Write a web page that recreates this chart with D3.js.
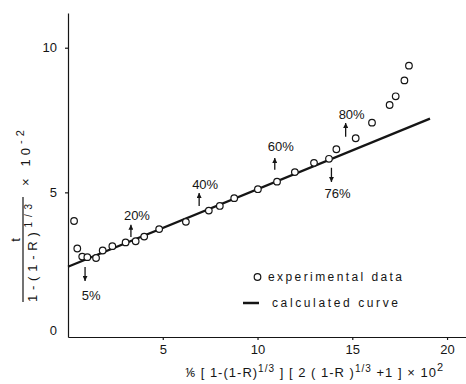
<!DOCTYPE html>
<html>
<head>
<meta charset="utf-8">
<script src="https://cdn.jsdelivr.net/npm/d3@7"></script>
<style>
html, body { margin: 0; padding: 0; background: #fff; }
svg { display: block; font-family: "Liberation Sans", Arial, sans-serif; }
</style>
</head>
<body>
<svg id="chart" width="466" height="384"></svg>
<script>
const g_ink = "#151515";

const exp_x = [0.32, 0.49, 0.75, 1.02, 1.48, 1.83, 2.34, 3.04, 3.57, 4.02, 4.81, 6.22, 7.43, 8.01,
               8.77, 10.02, 11.03, 11.97, 12.98, 13.77, 14.16, 15.18, 16.04, 16.97, 17.29, 17.75, 17.99];
const exp_y = [4.01, 3.06, 2.78, 2.76, 2.73, 2.99, 3.14, 3.27, 3.31, 3.47, 3.73, 3.98, 4.37, 4.53,
               4.80, 5.11, 5.37, 5.70, 6.02, 6.16, 6.49, 6.87, 7.41, 8.02, 8.32, 8.87, 9.38];
// calculated curve = straight line
const calc_x = [0, 19.1];
const calc_y = [2.43, 7.55];
const x_ticks = [5, 10, 15, 20];
const y_ticks = [0, 5, 10];
// conversion marks: label, arrow x, arrow tail y, arrow tip y, label baseline y
const mark_lbl = ["5%", "20%", "40%", "60%", "76%", "80%"];
const mark_x = [0.90, 3.32, 6.92, 10.91, 13.90, 14.65];
const mark_from = [2.42, 3.46, 4.53, 5.78, 5.85, 6.92];
const mark_to = [1.94, 3.88, 4.98, 6.19, 5.36, 7.40];
const mark_txt = [1.28, 4.05, 5.12, 6.42, 4.81, 7.53];

const svg = d3.select("#chart");
const x = d3.scaleLinear().domain([0, 21]).range([68, 466]);
const y = d3.scaleLinear().domain([0, 11.2]).range([337, 13]);

// arrow head
svg.append("defs").append("marker")
    .attr("id", "ah").attr("viewBox", "0 0 10 10")
    .attr("refX", 10).attr("refY", 5)
    .attr("markerUnits", "userSpaceOnUse")
    .attr("markerWidth", 5).attr("markerHeight", 5)
    .attr("orient", "auto")
    .append("path").attr("d", "M0,0L10,5L0,10z").attr("fill", g_ink);

// axes
const xa = svg.append("g").attr("transform", "translate(0," + y(0) + ")")
    .call(d3.axisBottom(x).tickValues(x_ticks).tickSize(3).tickSizeOuter(0).tickPadding(5));
const ya = svg.append("g").attr("transform", "translate(" + x(0) + ",0)")
    .call(d3.axisLeft(y).tickValues(y_ticks).tickSize(3).tickSizeOuter(0).tickPadding(8));
[xa, ya].forEach(a => {
    a.attr("font-family", null).attr("font-size", 13);
    a.selectAll("path, line").attr("stroke", g_ink).attr("stroke-width", 1.2);
    a.selectAll("text").attr("fill", g_ink);
});
ya.selectAll(".tick").filter(d => d === 0).select("line").remove();
ya.selectAll(".tick").filter(d => d === 0).select("text").attr("dy", "-0.2em");

// calculated curve
const line = d3.line().x(d => x(d[0])).y(d => y(d[1]));
svg.append("path").datum(d3.zip(calc_x, calc_y))
    .attr("d", line).attr("fill", "none")
    .attr("stroke", g_ink).attr("stroke-width", 2.3);

// experimental points
svg.selectAll(".pt").data(d3.zip(exp_x, exp_y)).join("circle").classed("pt", true)
    .attr("cx", d => x(d[0])).attr("cy", d => y(d[1])).attr("r", 3.3)
    .attr("fill", "#fff").attr("stroke", g_ink).attr("stroke-width", 1.2);

// conversion arrows
const marks = mark_lbl.map((l, i) => ({ l: l, x: mark_x[i], a: mark_from[i], b: mark_to[i], t: mark_txt[i] }));
svg.selectAll(".arr").data(marks).join("line").classed("arr", true)
    .attr("x1", d => x(d.x)).attr("x2", d => x(d.x))
    .attr("y1", d => y(d.a)).attr("y2", d => y(d.b))
    .attr("stroke", g_ink).attr("stroke-width", 1.3)
    .attr("marker-end", "url(#ah)");
svg.selectAll(".mlbl").data(marks).join("text").classed("mlbl", true)
    .attr("x", d => x(d.x) + 6).attr("y", d => y(d.t))
    .attr("text-anchor", "middle").attr("font-size", 13).attr("fill", g_ink)
    .text(d => d.l);

// legend
const lg = svg.append("g").attr("fill", g_ink).attr("font-size", 12);
lg.append("circle").attr("cx", 257.5).attr("cy", 277).attr("r", 3.3)
    .attr("fill", "#fff").attr("stroke", g_ink).attr("stroke-width", 1.2);
lg.append("text").attr("x", 268).attr("y", 281)
    .attr("textLength", 134).attr("lengthAdjust", "spacing").text("experimental data");
lg.append("line").attr("x1", 243).attr("x2", 259).attr("y1", 303).attr("y2", 303)
    .attr("stroke", g_ink).attr("stroke-width", 2.5);
lg.append("text").attr("x", 272).attr("y", 307)
    .attr("textLength", 126).attr("lengthAdjust", "spacing").text("calculated curve");

// x axis title
const xt = svg.append("text").attr("x", 185).attr("y", 377)
    .attr("font-size", 13).attr("fill", g_ink)
    .attr("textLength", 258).attr("lengthAdjust", "spacing");
xt.append("tspan").text("⅙ [ 1-(1-R)");
xt.append("tspan").attr("dy", -5).attr("font-size", 10).text("1/3");
xt.append("tspan").attr("dy", 5).text(" ] [ 2 ( 1-R )");
xt.append("tspan").attr("dy", -5).attr("font-size", 10).text("1/3");
xt.append("tspan").attr("dy", 5).text(" +1 ] × 10");
xt.append("tspan").attr("dy", -6).attr("font-size", 11).text("2");

// y axis title (rotated fraction)
const yt = svg.append("g").attr("transform", "rotate(-90)").attr("fill", g_ink);
const ym = yt.append("text").attr("x", -186).attr("y", 30).attr("font-size", 13)
    .attr("textLength", 56).attr("lengthAdjust", "spacing");
ym.append("tspan").text("× 10");
ym.append("tspan").attr("dy", -6).attr("font-size", 11).text("-2");
yt.append("line").attr("x1", -302).attr("x2", -197).attr("y1", 23).attr("y2", 23)
    .attr("stroke", g_ink).attr("stroke-width", 1.2);
yt.append("text").attr("x", -240).attr("y", 20).attr("font-size", 13)
    .attr("text-anchor", "middle").text("t");
const yd = yt.append("text").attr("x", -302).attr("y", 37).attr("font-size", 13)
    .attr("textLength", 98).attr("lengthAdjust", "spacing");
yd.append("tspan").text("1-(1-R)");
yd.append("tspan").attr("dy", -5).attr("font-size", 10).text("1/3");
</script>
</body>
</html>
